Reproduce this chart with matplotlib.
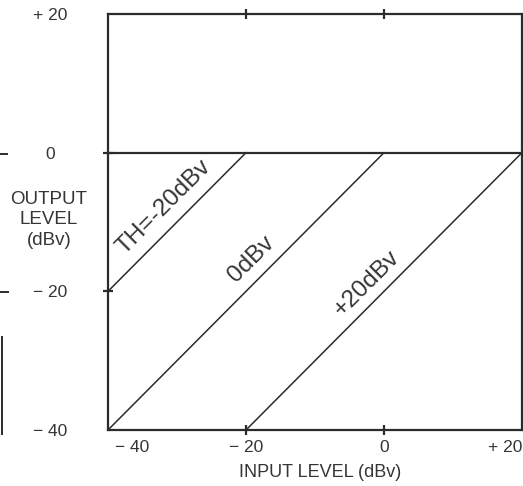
import matplotlib.pyplot as plt
from matplotlib.lines import Line2D
from matplotlib.transforms import ScaledTranslation

plt.rcParams['font.family'] = ['Liberation Sans', 'DejaVu Sans']

# level axes (dBv)
in_ticks = [-40, -20, 0, 20]
in_labels = ['\u2212 40', '\u2212 20', '0', '+ 20']
out_ticks = [-40, -20, 0, 20]
out_labels = ['\u2212 40', '\u2212 20', '0', '+ 20']

# output ceiling and one transfer line per threshold setting
out_limit = 0
th_names = ['TH=-20dBv', '0dBv', '+20dBv']
curve_in = [[-40, -20], [-40, 0], [-20, 20]]
curve_out = [[-20, 0], [-40, 0], [-40, 0]]
name_pos = [(-31.9, -7.9), (-19.2, -15.4), (-2.4, -18.9)]

ink = '#2b2b2b'
txt = '#353535'

fig = plt.figure(figsize=(5.23, 4.86), dpi=100)
ax = fig.add_axes([108 / 523, 56 / 486, 414 / 523, 416 / 486])
ax.set_xlim(-40, 20)
ax.set_ylim(-40, 20)

for s in ax.spines.values():
    s.set_color(ink)
    s.set_linewidth(1.6)

ax.axhline(out_limit, color=ink, lw=1.6)
for xs, ys in zip(curve_in, curve_out):
    ax.plot(xs, ys, color=ink, lw=1.1)

for name, (px, py) in zip(th_names, name_pos):
    ax.text(px, py, name, rotation=45, ha='center', va='center',
            fontsize=17.5, color=txt, rotation_mode='anchor')

ax.set_xticks(in_ticks, in_labels)
ax.set_yticks(out_ticks, out_labels)
ax.tick_params(axis='both', direction='inout', length=7, width=1.6,
               color=ink, labelcolor=txt, labelsize=12.5, top=True)
ax.tick_params(axis='x', pad=4)
ax.tick_params(axis='y', pad=38)
for lab in ax.get_yticklabels():
    lab.set_horizontalalignment('center')

# corner ticks sit on the frame
for t in ax.xaxis.get_major_ticks() + ax.yaxis.get_major_ticks():
    if t.get_loc() in (-40, 20):
        t.tick1line.set_visible(False)
        t.tick2line.set_visible(False)

xl = ax.get_xticklabels()
xl[0].set_transform(xl[0].get_transform() + ScaledTranslation(24 / 100, 0, fig.dpi_scale_trans))
xl[-1].set_transform(xl[-1].get_transform() + ScaledTranslation(-17 / 100, 0, fig.dpi_scale_trans))

ax.set_xlabel('INPUT LEVEL (dBv)', fontsize=13, color=txt, va='center')
ax.xaxis.set_label_coords(0.512, -0.101)
ax.set_ylabel('OUTPUT\nLEVEL\n(dBv)', fontsize=13.5, color=txt, rotation=0,
              ha='center', va='center', linespacing=1.3)
ax.yaxis.set_label_coords(-0.1425, 0.505)

# stray marks of the neighbouring plot at the left edge
for seg in ([(0, 7 / 523), (1 - 154 / 486,) * 2],
            [(0, 8 / 523), (1 - 292 / 486,) * 2],
            [(1.5 / 523,) * 2, (1 - 337 / 486, 1 - 434 / 486)]):
    fig.add_artist(Line2D(seg[0], seg[1], color=ink, lw=1.4))

fig.savefig('out.png', dpi=100)
